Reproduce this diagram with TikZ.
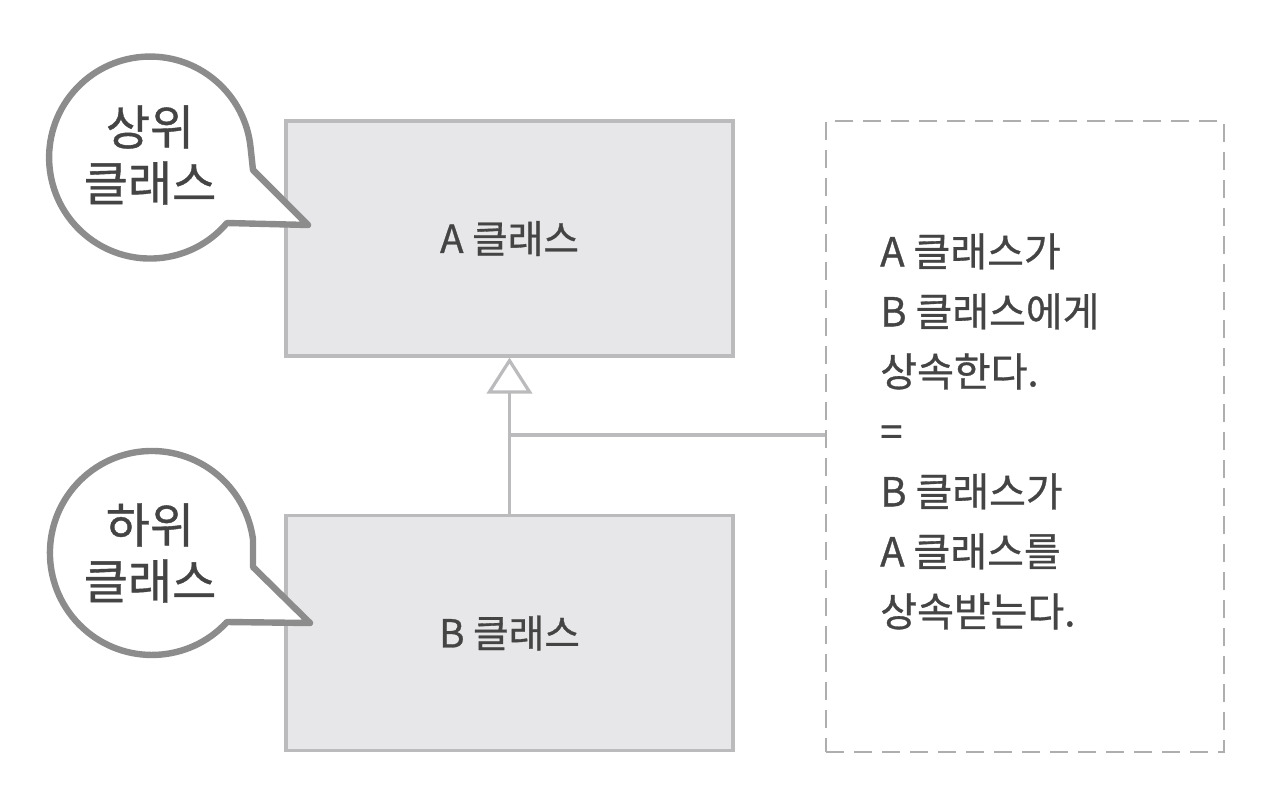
\documentclass[tikz,border=0pt]{standalone}
\usepackage{fontspec}
\setmainfont{Noto Sans CJK KR}[FakeBold=0.8,AutoFakeBold=0.8]
\usetikzlibrary{arrows.meta}
\definecolor{bubblegray}{HTML}{8C8C8C}
\definecolor{boxfill}{HTML}{E7E7E9}
\definecolor{boxline}{HTML}{BBBBBD}
\definecolor{dashline}{HTML}{AEAEAE}
\definecolor{txt}{HTML}{444444}
\begin{document}
\begin{tikzpicture}[x=0.75pt,y=0.75pt,
  bubble/.style={draw=bubblegray,line width=4.8pt,fill=white,line join=round},
  bubbletext/.style={text=txt,font=\fontsize{36}{42}\selectfont\bfseries,align=center},
  classbox/.style={draw=boxline,fill=boxfill,line width=2.4pt,minimum width=335.25pt,minimum height=176.25pt,inner sep=0pt,text=txt,font=\fontsize{29}{32}\selectfont\bfseries},
  notebox/.style={draw=dashline,line width=1.7pt,dash pattern=on 13.5pt off 7.5pt,minimum width=298.5pt,minimum height=473.25pt,inner sep=0pt},
  notetext/.style={text=txt,font=\fontsize{30}{45}\selectfont\bfseries,align=left,anchor=north west,inner sep=0pt},
  link/.style={draw=boxline,line width=2.6pt}
]
\useasboundingbox (0,0) rectangle (1280,-798);
% class boxes
\node[classbox] (A) at (509.5,-238.5) {A 클래스};
\node[classbox] (B) at (509.5,-633) {B 클래스};
% note box
\node[notebox] (note) at (1025,-436.5) {};
\node[notetext] (notet) at (880,-233) {A 클래스가\\B 클래스에게\\상속한다.\\=\\B 클래스가\\A 클래스를\\상속받는다.};
% inheritance
\draw[link,-{Triangle[open,length=27pt,width=34pt,line width=2.4pt,fill=white]}] (B.north) -- (A.south);
\coordinate (j) at (509.5,-435);
\draw[link] (j) -- (j -| note.west);
% bubble 1
\draw[bubble] (253,-170) -- (308,-225) -- (227,-223) arc[start angle=-40.4, end angle=-354.3, radius=101] -- cycle;
\node[bubbletext] (sup) at (150,-155) {상위\\클래스};
% bubble 2
\draw[bubble] (253,-567) -- (310,-623) -- (227,-622) arc[start angle=-42.6, end angle=-352.1, radius=102] -- cycle;
\node[bubbletext] (sub) at (150,-553) {하위\\클래스};
\end{tikzpicture}
\end{document}
